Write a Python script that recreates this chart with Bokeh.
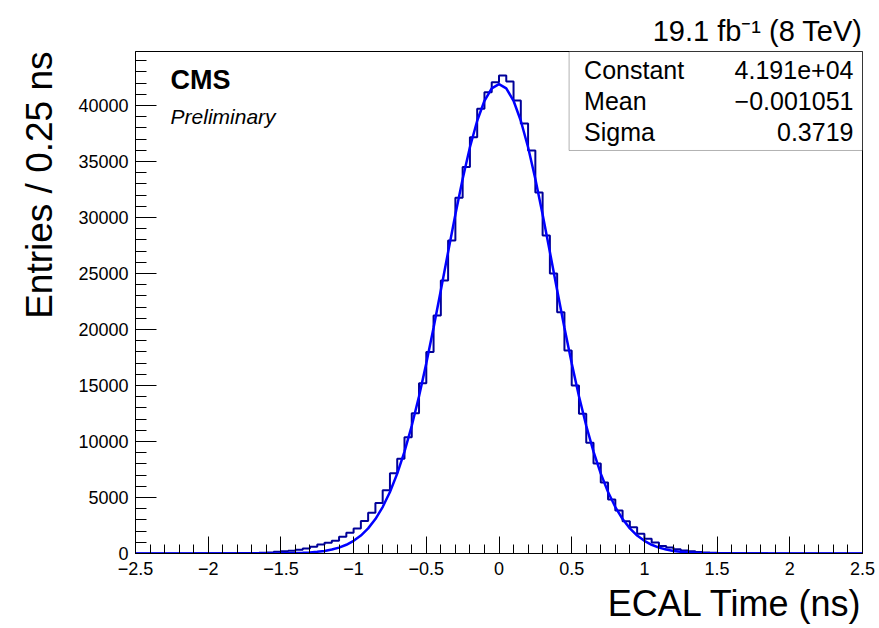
import numpy as np
from bokeh.plotting import figure
from bokeh.models import Range1d, FixedTicker, CustomJSTickFormatter, BoxAnnotation, Label, Title
from bokeh.embed import file_html
from bokeh.resources import INLINE

# ---------------- data ----------------
bin_low = -2.5
bin_width = 0.05
counts = [5, 5, 6, 7, 8, 9, 10, 11, 13, 15,
          17, 20, 24, 28, 34, 42, 55, 75, 100, 150,
          210, 250, 330, 450, 600, 800, 950, 1130, 1490, 1850,
          2230, 2910, 3630, 4520, 5650, 7170, 8460, 10390, 12530, 15210,
          17990, 21250, 24375, 27950, 31760, 34500, 37170, 39700, 41190, 42080,
          42680, 42140, 40450, 38390, 35980, 32230, 28390, 25000, 21550, 18125,
          15000, 12470, 9880, 8030, 6340, 4820, 3840, 2880, 2350, 1760,
          1310, 980, 680, 535, 385, 270, 200, 130, 90, 65,
          48, 36, 28, 22, 18, 15, 13, 11, 10, 9,
          8, 7, 7, 6, 6, 5, 5, 5, 4, 4]

fit_x = [-2.5, -2.0, -1.6, -1.55, -1.5, -1.45, -1.4, -1.35, -1.3, -1.25, -1.2, -1.15,
         -1.1, -1.05, -1.0, -0.95, -0.9, -0.85, -0.8, -0.75, -0.7, -0.65, -0.6, -0.55,
         -0.5, -0.45, -0.4, -0.35, -0.3, -0.25, -0.2, -0.15, -0.1, -0.05, 0.0,
         0.05, 0.1, 0.15, 0.2, 0.25, 0.3, 0.35, 0.4, 0.45, 0.5, 0.55, 0.6, 0.65,
         0.7, 0.75, 0.8, 0.85, 0.9, 0.95, 1.0, 1.05, 1.1, 1.15, 1.2, 1.25, 1.3,
         1.35, 1.4, 1.45, 1.5, 1.55, 1.6, 2.0, 2.5]
fit_y = [0, 0, 4, 7, 12, 21, 35, 58, 93, 148, 230, 352,
         528, 779, 1128, 1605, 2242, 3076, 4145, 5485, 7128, 9099, 11406, 14041,
         16976, 20156, 23502, 26915, 30269, 33435, 36268, 38636, 40422, 41533, 41910,
         41533, 40422, 38636, 36268, 33435, 30269, 26915, 23502, 20156, 16976, 14041, 11406, 9099,
         7128, 5485, 4145, 3076, 2242, 1605, 1128, 779, 528, 352, 230, 148, 93,
         58, 35, 21, 12, 7, 4, 0, 0]

x_major = [-2.5, -2.0, -1.5, -1.0, -0.5, 0.0, 0.5, 1.0, 1.5, 2.0, 2.5]
y_major = [0, 5000, 10000, 15000, 20000, 25000, 30000, 35000, 40000]

stat_names = ["Constant", "Mean", "Sigma"]
stat_values = ["4.191e+04", "\u22120.001051", "0.3719"]

x_title = "ECAL Time (ns)"
y_title = "Entries / 0.25 ns"
lumi_text = "19.1 fb\u207b\u00b9 (8 TeV)"

# ---------------- figure ----------------
XMIN, XMAX = -2.5, 2.5
YMAX = 44821
FONT = "Liberation Sans"
W, H = 879, 628
FL, FB = 135, 553   # frame left / bottom in canvas pixels

p = figure(width=W, height=H, output_backend="svg", toolbar_location=None,
           x_range=Range1d(XMIN, XMAX), y_range=Range1d(0, YMAX))
p.min_border_left = 135
p.min_border_right = 17
p.min_border_top = 51
p.min_border_bottom = 75
p.background_fill_color = "white"
p.border_fill_color = "white"
p.outline_line_color = "black"
p.outline_line_width = 1
p.xgrid.visible = False
p.ygrid.visible = False

fmt = CustomJSTickFormatter(code="return String(tick).replace('-', '\u2212');")

xminor = [round(-2.5 + 0.1 * i, 2) for i in range(51)]
yminor = [1000 * i for i in range(45)]

xa = p.xaxis[0]
xa.ticker = FixedTicker(ticks=x_major, minor_ticks=xminor)
xa.formatter = fmt
xa.major_tick_in = 17
xa.major_tick_out = 0
xa.minor_tick_in = 9
xa.minor_tick_out = 0
xa.major_label_standoff = 8
xa.major_label_text_font = FONT
xa.major_label_text_font_size = "18px"
xa.major_label_text_color = "black"
xa.axis_line_color = "black"
xa.major_tick_line_color = "black"
xa.minor_tick_line_color = "black"

ya = p.yaxis[0]
ya.ticker = FixedTicker(ticks=y_major, minor_ticks=yminor)
ya.formatter = fmt
ya.major_tick_in = 21
ya.major_tick_out = 0
ya.minor_tick_in = 11
ya.minor_tick_out = 0
ya.major_label_standoff = 7
ya.major_label_text_font = FONT
ya.major_label_text_font_size = "18px"
ya.major_label_text_color = "black"
ya.axis_line_color = "black"
ya.major_tick_line_color = "black"
ya.minor_tick_line_color = "black"

# histogram
edges = bin_low + bin_width * np.arange(len(counts) + 1)
step_y = list(counts) + [counts[-1]]
p.step(x=edges, y=step_y, mode="after", line_color="#000099", line_width=2)

# fit
p.line(x=fit_x, y=fit_y, line_color="#0000ff", line_width=2.5)

# helpers: canvas pixel -> data
def dx(px):
    return (px - FL) / 145.2 + XMIN

def dy(py):
    return (FB - py) / 0.0112

box = BoxAnnotation(left=dx(568), right=XMAX, bottom=dy(150), top=YMAX,
                    fill_color="white", fill_alpha=1.0, line_color="black", line_width=1)
p.add_layout(box)

row_py = [70, 101, 132]
for name, val, py in zip(stat_names, stat_values, row_py):
    p.add_layout(Label(x=dx(583), y=dy(py), text=name, text_align="left", text_baseline="middle",
                       text_font=FONT, text_font_size="25px", text_color="black"))
    p.add_layout(Label(x=dx(852), y=dy(py), text=val, text_align="right", text_baseline="middle",
                       text_font=FONT, text_font_size="25px", text_color="black"))

# CMS labels
p.add_layout(Label(x=dx(170), y=dy(80), text="CMS", text_align="left", text_baseline="middle",
                   text_font=FONT, text_font_style="bold", text_font_size="27px", text_color="black"))
p.add_layout(Label(x=dx(170), y=dy(116), text="Preliminary", text_align="left", text_baseline="middle",
                   text_font=FONT, text_font_style="italic", text_font_size="21px", text_color="black"))

# lumi + axis titles as side-panel titles
p.add_layout(Title(text=lumi_text, align="right", text_font=FONT, text_font_style="normal",
                   text_font_size="29px", text_color="black", standoff=9), "above")
p.add_layout(Title(text=x_title, align="right", text_font=FONT, text_font_style="normal",
                   text_font_size="36px", text_color="black", standoff=6), "below")
p.add_layout(Title(text=y_title, align="right", text_font=FONT, text_font_style="normal",
                   text_font_size="37px", text_color="black", standoff=31), "left")

open("out.html", "w").write(file_html(p, INLINE))
